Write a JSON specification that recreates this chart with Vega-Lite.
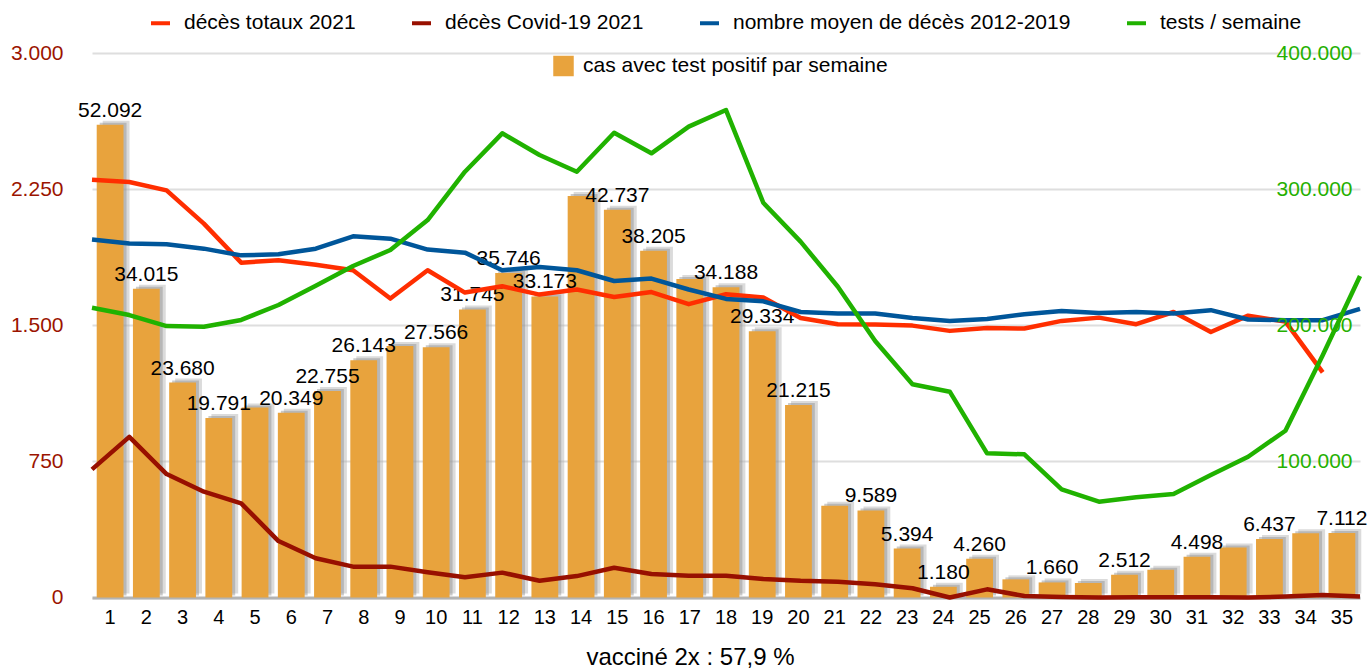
{
  "$schema": "https://vega.github.io/schema/vega-lite/v6.json",
  "width": 1268,
  "height": 544.5,
  "autosize": {"type": "none"},
  "padding": {"left": 92, "top": 53, "right": 10, "bottom": 72.5},
  "background": "white",
  "config": {
    "locale": {"number": {"decimal": ",", "thousands": ".", "grouping": [3], "currency": ["", " €"]}},
    "view": {"stroke": null},
    "font": "Liberation Sans",
    "text": {"font": "Liberation Sans"}
  },
  "data": {
    "values": [
      {"semaine": 1, "cas": 52092, "etiq": true, "deces_totaux": 2302, "deces_covid": 706, "deces_moyenne": 1972, "tests": 212900},
      {"semaine": 2, "cas": 34015, "etiq": true, "deces_totaux": 2289, "deces_covid": 885, "deces_moyenne": 1950, "tests": 207500},
      {"semaine": 3, "cas": 23680, "etiq": true, "deces_totaux": 2243, "deces_covid": 680, "deces_moyenne": 1946, "tests": 199400},
      {"semaine": 4, "cas": 19791, "etiq": true, "deces_totaux": 2060, "deces_covid": 583, "deces_moyenne": 1922, "tests": 198900},
      {"semaine": 5, "cas": 20950, "etiq": false, "deces_totaux": 1845, "deces_covid": 519, "deces_moyenne": 1885, "tests": 203900},
      {"semaine": 6, "cas": 20349, "etiq": true, "deces_totaux": 1858, "deces_covid": 311, "deces_moyenne": 1891, "tests": 214900},
      {"semaine": 7, "cas": 22755, "etiq": true, "deces_totaux": 1833, "deces_covid": 216, "deces_moyenne": 1922, "tests": 229000},
      {"semaine": 8, "cas": 26143, "etiq": true, "deces_totaux": 1803, "deces_covid": 170, "deces_moyenne": 1990, "tests": 243500},
      {"semaine": 9, "cas": 27720, "etiq": false, "deces_totaux": 1647, "deces_covid": 170, "deces_moyenne": 1977, "tests": 255300},
      {"semaine": 10, "cas": 27566, "etiq": true, "deces_totaux": 1803, "deces_covid": 139, "deces_moyenne": 1917, "tests": 277300},
      {"semaine": 11, "cas": 31745, "etiq": true, "deces_totaux": 1680, "deces_covid": 111, "deces_moyenne": 1900, "tests": 312800},
      {"semaine": 12, "cas": 35746, "etiq": true, "deces_totaux": 1715, "deces_covid": 137, "deces_moyenne": 1803, "tests": 341000},
      {"semaine": 13, "cas": 33173, "etiq": true, "deces_totaux": 1669, "deces_covid": 92, "deces_moyenne": 1821, "tests": 325100},
      {"semaine": 14, "cas": 44250, "etiq": false, "deces_totaux": 1697, "deces_covid": 118, "deces_moyenne": 1803, "tests": 312800},
      {"semaine": 15, "cas": 42737, "etiq": true, "deces_totaux": 1656, "deces_covid": 164, "deces_moyenne": 1744, "tests": 341400},
      {"semaine": 16, "cas": 38205, "etiq": true, "deces_totaux": 1683, "deces_covid": 129, "deces_moyenne": 1757, "tests": 326300},
      {"semaine": 17, "cas": 35100, "etiq": false, "deces_totaux": 1616, "deces_covid": 120, "deces_moyenne": 1697, "tests": 345900},
      {"semaine": 18, "cas": 34188, "etiq": true, "deces_totaux": 1671, "deces_covid": 120, "deces_moyenne": 1645, "tests": 358100},
      {"semaine": 19, "cas": 29334, "etiq": true, "deces_totaux": 1653, "deces_covid": 102, "deces_moyenne": 1632, "tests": 290000},
      {"semaine": 20, "cas": 21215, "etiq": true, "deces_totaux": 1540, "deces_covid": 92, "deces_moyenne": 1573, "tests": 261400},
      {"semaine": 21, "cas": 10110, "etiq": false, "deces_totaux": 1506, "deces_covid": 87, "deces_moyenne": 1565, "tests": 228300},
      {"semaine": 22, "cas": 9589, "etiq": true, "deces_totaux": 1504, "deces_covid": 73, "deces_moyenne": 1565, "tests": 188400},
      {"semaine": 23, "cas": 5394, "etiq": true, "deces_totaux": 1498, "deces_covid": 51, "deces_moyenne": 1540, "tests": 156600},
      {"semaine": 24, "cas": 1180, "etiq": true, "deces_totaux": 1469, "deces_covid": 0, "deces_moyenne": 1524, "tests": 151200},
      {"semaine": 25, "cas": 4260, "etiq": true, "deces_totaux": 1485, "deces_covid": 45, "deces_moyenne": 1535, "tests": 105900},
      {"semaine": 26, "cas": 2000, "etiq": false, "deces_totaux": 1482, "deces_covid": 8, "deces_moyenne": 1561, "tests": 105200},
      {"semaine": 27, "cas": 1660, "etiq": true, "deces_totaux": 1524, "deces_covid": 3, "deces_moyenne": 1579, "tests": 79500},
      {"semaine": 28, "cas": 1600, "etiq": false, "deces_totaux": 1542, "deces_covid": 0, "deces_moyenne": 1568, "tests": 70400},
      {"semaine": 29, "cas": 2512, "etiq": true, "deces_totaux": 1506, "deces_covid": 1, "deces_moyenne": 1573, "tests": 73600},
      {"semaine": 30, "cas": 3060, "etiq": false, "deces_totaux": 1573, "deces_covid": 2, "deces_moyenne": 1565, "tests": 76000},
      {"semaine": 31, "cas": 4498, "etiq": true, "deces_totaux": 1463, "deces_covid": 1, "deces_moyenne": 1583, "tests": 90000},
      {"semaine": 32, "cas": 5500, "etiq": false, "deces_totaux": 1553, "deces_covid": 0, "deces_moyenne": 1532, "tests": 103400},
      {"semaine": 33, "cas": 6437, "etiq": true, "deces_totaux": 1520, "deces_covid": 5, "deces_moyenne": 1528, "tests": 122500},
      {"semaine": 34, "cas": 7080, "etiq": false, "deces_totaux": 1240, "deces_covid": 14, "deces_moyenne": 1528, "tests": 178000},
      {"semaine": 35, "cas": 7112, "etiq": true, "deces_totaux": null, "deces_covid": 5, "deces_moyenne": 1590, "tests": 236200}
    ]
  },
  "layer": [
    {
      "encoding": {
        "x": {
          "field": "semaine",
          "type": "ordinal",
          "scale": {"paddingInner": 0.26, "paddingOuter": 0.13},
          "axis": {
            "labelAngle": 0,
            "labelFontSize": 20,
            "labelColor": "#000000",
            "labelPadding": 10,
            "ticks": false,
            "tickSize": 0,
            "domainColor": "#b3b3b3",
            "domainWidth": 3,
            "title": "vacciné 2x : 57,9 %",
            "titleFontSize": 24,
            "titleFontWeight": "normal",
            "titleColor": "#000000",
            "titlePadding": 18,
            "titleX": 598
          }
        },
        "y": {
          "field": "cas",
          "type": "quantitative",
          "scale": {"domain": [0, 60000], "nice": false},
          "axis": null
        }
      },
      "layer": [
        {
          "mark": {"type": "bar", "color": "#b0b0b0", "opacity": 0.45, "xOffset": 6, "yOffset": -4},
          "encoding": {}
        },
        {
          "mark": {"type": "bar", "color": "#8c8c8c", "opacity": 0.45, "xOffset": 3, "yOffset": -2},
          "encoding": {}
        },
        {
          "mark": {"type": "bar"},
          "encoding": {
            "fill": {
              "datum": "cas avec test positif par semaine",
              "type": "nominal",
              "scale": {"range": ["#E8A33D"]},
              "legend": {
                "orient": "none",
                "legendX": 461,
                "legendY": 2.5,
                "title": null,
                "padding": 0,
                "symbolType": "square",
                "symbolSize": 420,
                "symbolStrokeWidth": 0,
                "labelFontSize": 21,
                "labelColor": "#000000",
                "labelLimit": 600,
                "labelOffset": 9
              }
            }
          }
        },
        {
          "transform": [{"filter": "datum.etiq"}],
          "mark": {"type": "text", "baseline": "alphabetic", "dy": -8, "fontSize": 21, "color": "#000000"},
          "encoding": {
            "text": {"field": "cas", "type": "quantitative", "format": ",d"}
          }
        }
      ]
    },
    {
      "transform": [{"fold": ["deces_totaux", "deces_covid", "deces_moyenne"], "as": ["serie", "valeur"]}],
      "mark": {"type": "line", "strokeWidth": 4.5, "strokeJoin": "round"},
      "encoding": {
        "x": {
          "field": "semaine",
          "type": "quantitative",
          "scale": {"domain": [1, 35], "nice": false, "zero": false},
          "axis": null
        },
        "y": {
          "field": "valeur",
          "type": "quantitative",
          "scale": {"domain": [0, 3000], "nice": false},
          "axis": {
            "orient": "left",
            "values": [0, 750, 1500, 2250, 3000],
            "format": ",d",
            "labelFontSize": 21,
            "labelColor": "#9B1400",
            "labelPadding": 29,
            "ticks": false,
            "tickSize": 0,
            "domain": false,
            "grid": true,
            "gridColor": "#dedede",
            "gridWidth": 2,
            "title": null
          }
        },
        "color": {
          "field": "serie",
          "type": "nominal",
          "scale": {
            "domain": ["deces_totaux", "deces_covid", "deces_moyenne", "tests"],
            "range": ["#FF2E00", "#981000", "#00569A", "#20B200"]
          },
          "legend": {
            "orient": "none",
            "legendX": 57,
            "legendY": -41.5,
            "direction": "horizontal",
            "columns": 4,
            "columnPadding": 48,
            "title": null,
            "padding": 0,
            "symbolType": "stroke",
            "symbolStrokeWidth": 4,
            "symbolSize": 361,
            "labelFontSize": 21,
            "labelColor": "#000000",
            "labelLimit": 600,
            "labelOffset": 12,
            "labelExpr": "datum.label == 'deces_totaux' ? 'décès totaux 2021' : datum.label == 'deces_covid' ? 'décès Covid-19 2021' : datum.label == 'deces_moyenne' ? 'nombre moyen de décès 2012-2019' : 'tests / semaine'"
          }
        }
      }
    },
    {
      "mark": {"type": "line", "strokeWidth": 4.5, "strokeJoin": "round"},
      "encoding": {
        "x": {
          "field": "semaine",
          "type": "quantitative",
          "scale": {"domain": [1, 35], "nice": false, "zero": false},
          "axis": null
        },
        "y": {
          "field": "tests",
          "type": "quantitative",
          "scale": {"domain": [0, 400000], "nice": false},
          "axis": {
            "orient": "right",
            "values": [100000, 200000, 300000, 400000],
            "format": ",d",
            "labelFontSize": 21,
            "labelColor": "#25B000",
            "labelAlign": "right",
            "labelPadding": -8,
            "ticks": false,
            "tickSize": 0,
            "domain": false,
            "grid": false,
            "title": null,
            "zindex": 1
          }
        },
        "color": {
          "datum": "tests",
          "type": "nominal",
          "scale": {
            "domain": ["deces_totaux", "deces_covid", "deces_moyenne", "tests"],
            "range": ["#FF2E00", "#981000", "#00569A", "#20B200"]
          }
        }
      }
    }
  ],
  "resolve": {"scale": {"x": "independent", "y": "independent"}}
}
